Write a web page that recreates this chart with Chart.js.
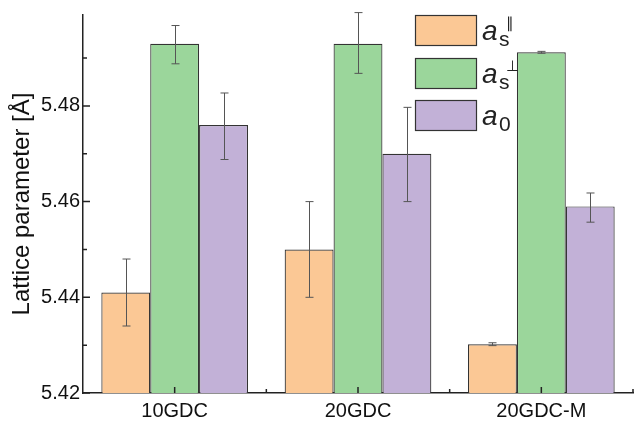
<!DOCTYPE html>
<html>
<head>
<meta charset="utf-8">
<script src="https://cdn.jsdelivr.net/npm/chart.js@4"></script>
<style>
  html, body { margin: 0; padding: 0; background: #fff; }
  #wrap { width: 635px; height: 423px; position: relative; }
</style>
</head>
<body>
<div id="wrap"><canvas id="chart"></canvas></div>
<script>
// data
const categories = ['10GDC', '20GDC', '20GDC-M'];
const asParallel = [5.441, 5.450, 5.4302];
const asParallelLow = [5.434, 5.440, 5.4299];
const asParallelHigh = [5.448, 5.460, 5.4305];
const asPerp = [5.493, 5.493, 5.4912];
const asPerpLow = [5.4888, 5.4868, 5.4910];
const asPerpHigh = [5.4968, 5.4995, 5.4914];
const a0 = [5.476, 5.470, 5.459];
const a0Low = [5.4688, 5.4600, 5.4557];
const a0High = [5.4827, 5.4797, 5.4618];
const yTicks = [5.42, 5.44, 5.46, 5.48];
const yMinorTicks = [5.43, 5.45, 5.47, 5.49];

const colors = ['#FBC895', '#9BD69B', '#C2B1D7'];
const FONT = '"Liberation Sans", Arial, sans-serif';

const errorBars = {
    id: 'errorBars',
    afterDatasetsDraw(chart) {
        const ctx = chart.ctx, y = chart.scales.y;
        const lows = [asParallelLow, asPerpLow, a0Low];
        const highs = [asParallelHigh, asPerpHigh, a0High];
        ctx.save();
        ctx.strokeStyle = '#555';
        ctx.lineWidth = 1;
        chart.data.datasets.forEach((ds, di) => {
            chart.getDatasetMeta(di).data.forEach((bar, i) => {
                const x = Math.round(bar.x) + 0.5;
                const y1 = y.getPixelForValue(lows[di][i]);
                const y2 = y.getPixelForValue(highs[di][i]);
                ctx.beginPath();
                ctx.moveTo(x, y1); ctx.lineTo(x, y2);
                ctx.moveTo(x - 4, y1); ctx.lineTo(x + 4, y1);
                ctx.moveTo(x - 4, y2); ctx.lineTo(x + 4, y2);
                ctx.stroke();
            });
        });
        ctx.restore();
    }
};

const axisDecor = {
    id: 'axisDecor',
    afterDraw(chart) {
        const ctx = chart.ctx, y = chart.scales.y, x = chart.scales.x;
        const area = chart.chartArea;
        ctx.save();
        ctx.strokeStyle = '#222';
        ctx.lineWidth = 1.5;
        ctx.beginPath();
        yTicks.forEach(v => { const p = y.getPixelForValue(v); ctx.moveTo(area.left, p); ctx.lineTo(area.left + 7, p); });
        yMinorTicks.forEach(v => { const p = y.getPixelForValue(v); ctx.moveTo(area.left, p); ctx.lineTo(area.left + 4, p); });
        categories.forEach((c, i) => { const p = x.getPixelForValue(i); ctx.moveTo(p, area.bottom); ctx.lineTo(p, area.bottom - 6); });
        for (let i = 0; i < categories.length; i++) {
            const p = x.getPixelForValue(i) + (x.getPixelForValue(1) - x.getPixelForValue(0)) / 2;
            ctx.moveTo(p, area.bottom); ctx.lineTo(p, area.bottom - 4);
        }
        ctx.stroke();

        // legend
        const labels = [['s', '\u2225'], ['s', '\u22A5'], ['0', '']];
        ctx.lineWidth = 1.2;
        ctx.strokeStyle = '#333';
        [15, 58, 100].forEach((top, i) => {
            ctx.fillStyle = colors[i];
            ctx.fillRect(415, top, 61, 30);
            ctx.strokeRect(415.5, top + 0.5, 61, 30);
            ctx.fillStyle = '#222';
            ctx.textBaseline = 'alphabetic';
            ctx.textAlign = 'left';
            ctx.font = 'italic 28px ' + FONT;
            ctx.fillText('a', 482, top + 25);
            ctx.font = '21px ' + FONT;
            ctx.fillText(labels[i][0], 499, top + 31);
            if (labels[i][1]) {
                ctx.font = '15px ' + FONT;
                ctx.fillText(labels[i][1], 506, top + 13);
            }
        });
        ctx.restore();
    }
};

new Chart(document.getElementById('chart'), {
    type: 'bar',
    data: {
        labels: categories,
        datasets: [
            { label: 'as∥', data: asParallel, backgroundColor: colors[0] },
            { label: 'as⊥', data: asPerp, backgroundColor: colors[1] },
            { label: 'a0', data: a0, backgroundColor: colors[2] }
        ].map(d => Object.assign(d, { borderColor: '#333', borderWidth: 1.2, borderSkipped: 'bottom', categoryPercentage: 0.8, barPercentage: 1.0, base: 5.42 }))
    },
    options: {
        responsive: true,
        maintainAspectRatio: false,
        animation: false,
        layout: { padding: { top: 12, right: 2, left: 0, bottom: 0 } },
        plugins: { legend: { display: false }, tooltip: { enabled: false } },
        scales: {
            x: {
                grid: { display: false, drawTicks: false },
                border: { display: true, color: '#222', width: 1.5 },
                ticks: { color: '#111', font: { family: FONT, size: 20 }, padding: 6 },
                afterFit(s) { s.height = 30; }
            },
            y: {
                min: 5.42, max: 5.499,
                grid: { display: false, drawTicks: false },
                border: { display: true, color: '#222', width: 1.5 },
                afterBuildTicks(s) { s.ticks = yTicks.map(v => ({ value: v })); },
                ticks: { color: '#111', font: { family: FONT, size: 20 }, padding: 3, callback: v => v.toFixed(2) },
                title: { display: true, text: 'Lattice parameter [Å]', color: '#111', font: { family: FONT, size: 24 }, padding: { top: 8, bottom: 0 } },
                afterFit(s) { s.width = 83; }
            }
        }
    },
    plugins: [errorBars, axisDecor]
});
</script>
</body>
</html>
